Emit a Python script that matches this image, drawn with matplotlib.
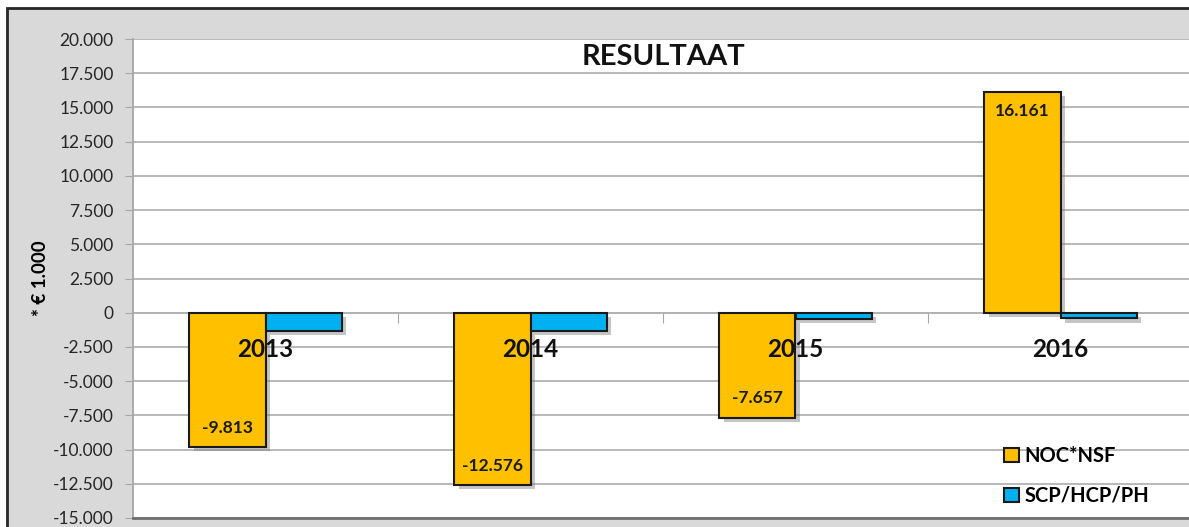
import matplotlib.pyplot as plt
import matplotlib.patheffects as pe
from matplotlib.patches import Rectangle
import numpy as np

#%% Data

years = ["2013", "2014", "2015", "2016"]
noc_nsf = [-9813, -12576, -7657, 16161]
scp_hcp_ph = [-1350, -1350, -450, -420]
series_names = ["NOC*NSF", "SCP/HCP/PH"]
yticks = np.arange(-15000, 20001, 2500)

plt.rcParams['font.family'] = ['Lato', 'DejaVu Sans']

#%% Plot

fig = plt.figure(figsize=(11.89, 5.27), dpi=100)
fig.patch.set_facecolor("white")
# gray chart frame (cropped screenshot, border only on left/top)
fig.add_artist(Rectangle((7/1189, -0.1), 1.2, 1 - 8/527 + 0.1, transform=fig.transFigure,
                         facecolor="#d9d9d9", edgecolor="#262626", lw=2, zorder=0))

ax = fig.add_axes([133/1189, 1 - 518/527, 1060/1189, (518 - 39)/527])
ax.set_facecolor("white")

x = np.arange(len(years))
w = 0.287
shadow = [pe.SimplePatchShadow(offset=(3, -3), shadow_rgbFace="#7f7f7f", alpha=0.45), pe.Normal()]
b1 = ax.bar(x - w/2, noc_nsf, w, color="#FFC000", edgecolor="#1a1a1a", lw=1.5,
            label=series_names[0], zorder=3)
b2 = ax.bar(x + w/2, scp_hcp_ph, w, color="#00B0F0", edgecolor="#1a1a1a", lw=1.5,
            label=series_names[1], zorder=3)
for b in list(b1) + list(b2):
    b.set_path_effects(shadow)

# data labels for orange series
for xi, v in zip(x, noc_nsf):
    lab = f"{v:,}".replace(",", ".")
    off = -1450 if v > 0 else 1400
    ax.text(xi - w/2, v + off, lab, ha="center", va="center", fontsize=12.5,
            fontweight="bold", color="#1a1a1a", zorder=5)

# category labels just below zero line
for xi, yr in zip(x, years):
    ax.text(xi, -2700, yr, ha="center", va="center", fontsize=17.5,
            fontweight="bold", color="#111111", zorder=5)

ax.set_xlim(-0.5, 3.5)
ax.set_ylim(-15000, 20000)
ax.set_yticks(yticks)
ax.set_yticklabels([f"{t:,}".replace(",", ".") for t in yticks], fontsize=12.5, color="#262626")
ax.tick_params(axis="y", length=6, color="#a6a6a6", pad=8)
ax.set_xticks([])
ax.grid(axis="y", color="#b3b3b3", lw=1.3, zorder=0)
ax.set_axisbelow(True)
for s in ["top", "right"]:
    ax.spines[s].set_visible(False)
ax.spines["left"].set_color("#a6a6a6")
ax.spines["left"].set_linewidth(1.3)
ax.spines["bottom"].set_color("#6e6e6e")
ax.spines["bottom"].set_linewidth(2)

# category axis crossing at zero
sec = ax.secondary_xaxis(15000/35000)
sec.set_xticks([0.5, 1.5, 2.5])
sec.set_xticklabels([])
sec.tick_params(length=7, color="#a6a6a6", direction="out")
sec.spines["bottom"].set_color("#a6a6a6")
sec.spines["bottom"].set_linewidth(1.3)

ax.set_ylabel("* € 1.000", fontsize=13.5, fontweight="bold", labelpad=3)
ax.text(0.5, 0.99, "RESULTAAT", transform=ax.transAxes, ha="center", va="top",
        fontsize=21, fontweight="bold", color="#111111")

leg = ax.legend(loc="lower left", bbox_to_anchor=(0.805, -0.012), frameon=False,
                handlelength=0.7, handleheight=0.7, handletextpad=0.3, labelspacing=0.95,
                prop={"weight": "bold", "size": 14.5})
for h in leg.legend_handles:
    h.set_path_effects([])

fig.savefig("out.png", dpi=100, facecolor=fig.get_facecolor())
